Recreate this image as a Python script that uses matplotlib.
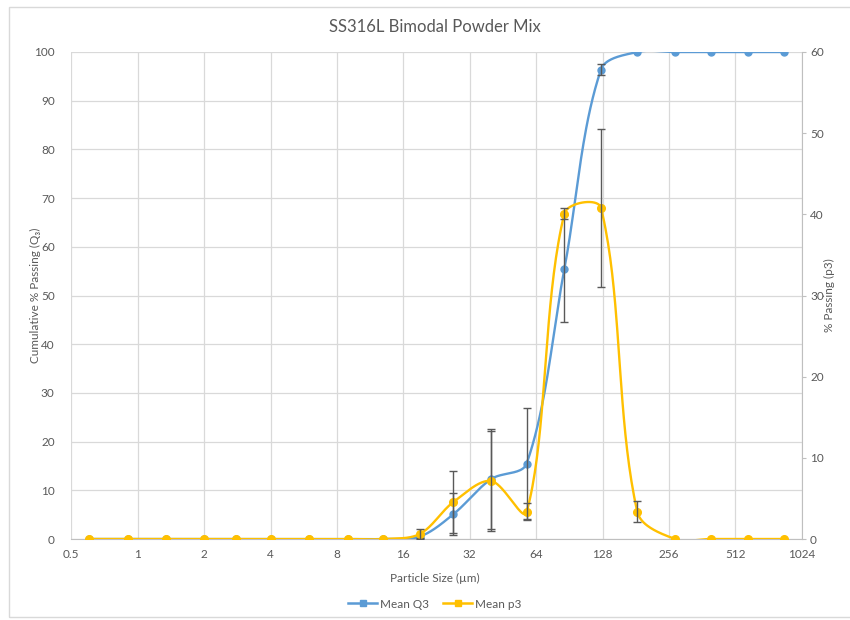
import numpy as np
import matplotlib
matplotlib.use("Agg")
import matplotlib.pyplot as plt
from matplotlib.lines import Line2D
from matplotlib.patches import Rectangle

plt.rcParams['font.family'] = ['Lato', 'DejaVu Sans']

# ---- data ----
sizes = [0.6, 0.9, 1.35, 2, 2.8, 4, 6, 9, 13, 19, 27, 40, 58, 86, 126, 184, 273, 397, 583, 851]
mean_q3 = [0, 0, 0, 0, 0, 0, 0, 0, 0, 0.5, 5.1, 12.3, 15.5, 55.5, 96.4, 100, 100, 100, 100, 100]
err_q3 = [0, 0, 0, 0, 0, 0, 0, 0, 0, 0.3, 4.3, 10.3, 11.4, 11.0, 1.2, 0, 0, 0, 0, 0]
mean_p3 = [0, 0, 0, 0, 0, 0, 0, 0, 0, 0.62, 4.56, 7.15, 3.33, 40.1, 40.8, 3.36, 0, 0, 0, 0]
err_p3 = [0, 0, 0, 0, 0, 0, 0, 0, 0, 0.6, 3.76, 6.2, 1.05, 0.71, 9.7, 1.3, 0, 0, 0, 0]
x_ticks = [0.5, 1, 2, 4, 8, 16, 32, 64, 128, 256, 512, 1024]
x_ticklabels = ['0.5', '1', '2', '4', '8', '16', '32', '64', '128', '256', '512', '1024']

title = 'SS316L Bimodal Powder Mix'
xlabel = 'Particle Size (µm)'
ylabel_left = 'Cumulative % Passing (Q₃)'
ylabel_right = '% Passing (p3)'
legend_labels = ['Mean Q3', 'Mean p3']

BLUE = '#5B9BD5'
YELLOW = '#FFC000'
TXT = '#595959'
GRID = '#D9D9D9'
ERR = '#595959'

fig = plt.figure(figsize=(8.5, 6.2), dpi=100)
W, H = 850, 620
ax = fig.add_axes([71.3 / W, 81 / H, (801.7 - 71.3) / W, (539 - 52) / H])
ax2 = ax.twinx()

ax.set_xscale('log', base=2)
ax.set_xlim(0.5, 1024)
ax.set_ylim(0, 100)
ax2.set_ylim(0, 60)
ax.set_xticks(x_ticks)
ax.set_xticklabels(x_ticklabels)
ax.xaxis.set_minor_locator(matplotlib.ticker.NullLocator())
ax.set_yticks(np.arange(0, 101, 10))
ax2.set_yticks(np.arange(0, 61, 10))

ax.grid(True, color=GRID, lw=0.9)
ax.set_axisbelow(True)
for s in ['top', 'left', 'right']:
    ax.spines[s].set_visible(False)
ax.spines['bottom'].set_color('#BFBFBF')
for s in ['top', 'left', 'bottom']:
    ax2.spines[s].set_visible(False)
ax2.spines['right'].set_color('#BFBFBF')

ax.tick_params(axis='both', length=0, labelsize=8.5, labelcolor=TXT)
ax.tick_params(axis='y', pad=12)
ax.tick_params(axis='x', pad=7)
ax2.tick_params(axis='y', length=3, color='#BFBFBF', labelsize=8.5, labelcolor=TXT, pad=3)


def smooth(axis, xs, ys, n=40):
    pts = axis.transData.transform(np.column_stack([xs, ys]))
    out = []
    m = len(pts)
    for i in range(m - 1):
        p1, p2 = pts[i], pts[i + 1]
        p0 = pts[i - 1] if i > 0 else p1
        p3 = pts[i + 2] if i + 2 < m else p2
        d01 = np.linalg.norm(p1 - p0)
        d12 = np.linalg.norm(p2 - p1)
        d23 = np.linalg.norm(p3 - p2)
        f1 = d12 / (d01 + d12) / 3 if d01 + d12 > 0 else 0
        f2 = d12 / (d12 + d23) / 3 if d12 + d23 > 0 else 0
        c1 = p1 + (p2 - p0) * f1
        c2 = p2 - (p3 - p1) * f2
        t = np.linspace(0, 1, n)[:, None]
        seg = ((1 - t) ** 3) * p1 + 3 * ((1 - t) ** 2) * t * c1 + 3 * (1 - t) * t ** 2 * c2 + t ** 3 * p2
        out.append(seg if i == 0 else seg[1:])
    disp = np.vstack(out)
    data = axis.transData.inverted().transform(disp)
    return data[:, 0], data[:, 1]


sx, sy = smooth(ax, sizes, mean_q3)
ax.plot(sx, sy, color=BLUE, lw=1.7, zorder=3, solid_capstyle='round')
ax.plot(sizes, mean_q3, 'o', color=BLUE, ms=5, zorder=4)
idx = [i for i, e in enumerate(err_q3) if e > 0]
ax.errorbar([sizes[i] for i in idx], [mean_q3[i] for i in idx], yerr=[err_q3[i] for i in idx],
            fmt='none', ecolor=ERR, elinewidth=1, capsize=3, capthick=1, zorder=5)

sx2, sy2 = smooth(ax2, sizes, mean_p3)
ax2.plot(sx2, sy2, color=YELLOW, lw=1.7, zorder=3, solid_capstyle='round')
ax2.plot(sizes, mean_p3, 'o', color=YELLOW, ms=5.5, zorder=4)
idx = [i for i, e in enumerate(err_p3) if e > 0]
ax2.errorbar([sizes[i] for i in idx], [mean_p3[i] for i in idx], yerr=[err_p3[i] for i in idx],
             fmt='none', ecolor=ERR, elinewidth=1, capsize=3, capthick=1, zorder=5)
ax2.set_xlim(0.5, 1024)

fig.text(435 / W, 1 - 27 / H, title, ha='center', va='center', fontsize=12, color=TXT)
fig.text(435 / W, 1 - 578 / H, xlabel, ha='center', va='center', fontsize=8.5, color=TXT)
fig.text(35 / W, 1 - 295 / H, ylabel_left, ha='center', va='center', rotation=90, fontsize=8.5, color=TXT)
fig.text(829 / W, 1 - 295 / H, ylabel_right, ha='center', va='center', rotation=90, fontsize=8.5, color=TXT)

handles = [Line2D([], [], color=BLUE, lw=1.8, marker='s', ms=4),
           Line2D([], [], color=YELLOW, lw=1.8, marker='s', ms=4)]
fig.legend(handles, legend_labels, loc='center', bbox_to_anchor=(435 / W, 1 - 604 / H), ncol=2,
           frameon=False, fontsize=8.5, labelcolor=TXT, handlelength=2.4, columnspacing=1.2,
           handletextpad=0.3)

fig.patches.append(Rectangle((9 / W, 3 / H), 1.0, 1 - 10 / H, transform=fig.transFigure,
                             fill=False, edgecolor='#D9D9D9', lw=1))

fig.savefig('out.png', dpi=100)
